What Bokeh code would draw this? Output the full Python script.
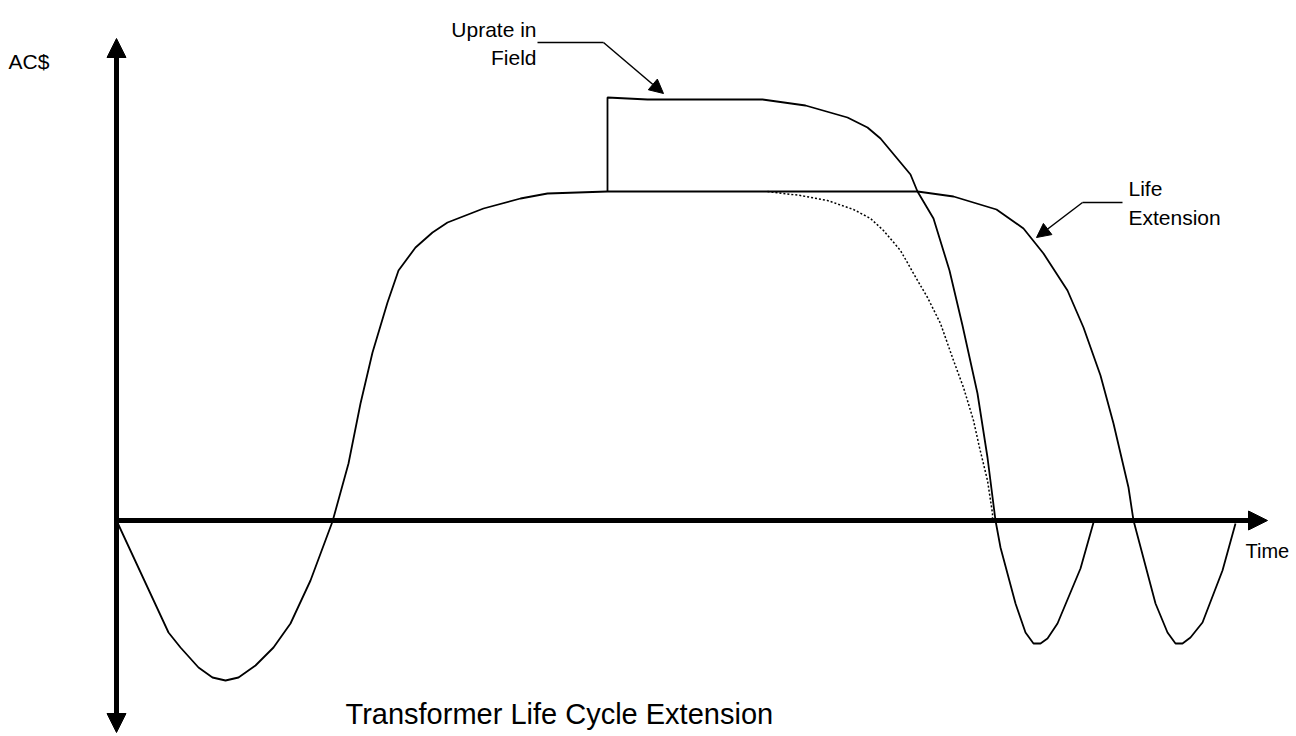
from bokeh.plotting import figure
from bokeh.models import Range1d, Arrow, NormalHead
from bokeh.core.properties import value
from bokeh.embed import file_html
from bokeh.resources import INLINE

# ---- data (time units on x, AC$ units on y; origin at axes crossing) ----
base_t = [0, 52, 64, 82, 96, 109, 122, 139, 157, 174, 194, 216, 232, 244, 256, 271, 282,
          299, 316, 331, 367, 404, 431, 491, 801, 837, 880, 907, 927, 951, 967, 984, 997,
          1012, 1017, 1039, 1051, 1059, 1066, 1074, 1086, 1106, 1119]
base_v = [0, -112, -127, -147, -157, -160, -157, -145, -127, -103, -60, -1, 57, 117, 168, 218, 250,
          273, 288, 298, 312, 322, 327, 329, 329, 324, 311, 292, 267, 230, 193, 145, 97,
          33, 0, -83, -112, -123, -123, -117, -102, -50, -3]

uprate_t = [491, 491, 531, 646, 689, 731, 751, 764, 794, 801, 817, 833, 846, 861, 871, 879,
            884, 899, 909, 917, 924, 931, 941, 964, 977]
uprate_v = [329, 423, 421, 421, 415, 403, 393, 382, 346, 329, 302, 250, 195, 127, 63, 0,
            -27, -83, -112, -123, -123, -118, -103, -48, -2]

noext_t = [651, 684, 711, 737, 754, 767, 784, 797, 811, 824, 837, 847, 857, 863, 871, 876, 876]
noext_v = [329, 325, 320, 311, 302, 290, 270, 247, 223, 197, 160, 133, 100, 73, 40, 7, 0]

# annotation anchors
uprate_leader_t = [421, 487, 547]
uprate_leader_v = [478, 478, 427]
life_leader_t = [1006, 966, 920]
life_leader_v = [318, 318, 283]

FONT = value("Liberation Sans")

p = figure(width=1296, height=736, output_backend="svg", toolbar_location=None,
           x_range=Range1d(-116, 1180), y_range=Range1d(-216, 520), min_border=0)
p.axis.visible = False
p.grid.visible = False
p.outline_line_color = None
p.background_fill_color = "white"
p.border_fill_color = "white"

# axes with arrow heads
p.add_layout(Arrow(start=NormalHead(size=19, fill_color="black", line_color="black", line_width=1),
                   end=NormalHead(size=19, fill_color="black", line_color="black", line_width=1),
                   x_start=0, y_start=-212, x_end=0, y_end=482,
                   line_width=5, line_color="black"))
p.add_layout(Arrow(end=NormalHead(size=19, fill_color="black", line_color="black", line_width=1),
                   x_start=0, y_start=0, x_end=1151, y_end=0,
                   line_width=5, line_color="black"))

# curves
p.line(base_t, base_v, line_color="black", line_width=1.8)
p.line(uprate_t, uprate_v, line_color="black", line_width=1.8)
p.line(noext_t, noext_v, line_color="black", line_width=1.5, line_dash="2 2")

# leader lines
p.line(uprate_leader_t[:2], uprate_leader_v[:2], line_color="black", line_width=1.5)
p.add_layout(Arrow(end=NormalHead(size=14, fill_color="black", line_color="black", line_width=1),
                   x_start=uprate_leader_t[1], y_start=uprate_leader_v[1],
                   x_end=uprate_leader_t[2], y_end=uprate_leader_v[2],
                   line_width=1.5, line_color="black"))
p.line(life_leader_t[:2], life_leader_v[:2], line_color="black", line_width=1.5)
p.add_layout(Arrow(end=NormalHead(size=14, fill_color="black", line_color="black", line_width=1),
                   x_start=life_leader_t[1], y_start=life_leader_v[1],
                   x_end=life_leader_t[2], y_end=life_leader_v[2],
                   line_width=1.5, line_color="black"))

# texts
def label(x, y, t, align="left", size="21px"):
    p.text(x=[x], y=[y], text=[t], text_font=FONT, text_font_size=size,
           text_align=align, text_baseline="alphabetic", text_color="black")

label(-108, 459, "AC$")
label(420, 491, "Uprate in", align="right")
label(420, 463, "Field", align="right")
label(1012, 332, "Life")
label(1012, 303, "Extension")
label(1129, -30, "Time", size="20px")
label(229, -193, "Transformer Life Cycle Extension", size="29px")

open("out.html", "w").write(file_html(p, INLINE))
